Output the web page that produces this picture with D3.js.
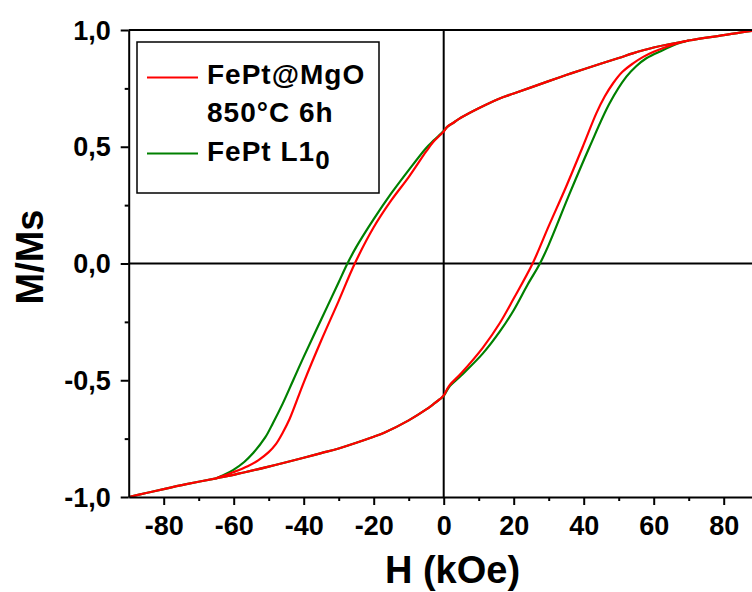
<!DOCTYPE html>
<html>
<head>
<meta charset="utf-8">
<script src="https://cdn.jsdelivr.net/npm/d3@7"></script>
<style>
  html, body { margin: 0; padding: 0; background: #fff; }
  svg { display: block; }
  text { font-family: "Liberation Sans", Arial, sans-serif; font-weight: bold; fill: #000; }
</style>
</head>
<body>
<svg id="chart" width="752" height="592"></svg>
<script>
// ---------- data (H in kOe, M/Ms) ----------
const xTicks = [-80, -60, -40, -20, 0, 20, 40, 60, 80];
const xMinorTicks = [-70, -50, -30, -10, 10, 30, 50, 70];
const yTicks = [-1.0, -0.5, 0.0, 0.5, 1.0];
const yMinorTicks = [-0.75, -0.25, 0.25, 0.75];

const seriesNames = ["FePt@MgO", "850°C 6h", "FePt L1", "0"];

// descending branch, H > 0 (common to both samples)
const upperPos = [[90,1.0],[85,0.99],[80,0.978],[70,0.955],[60,0.925],[54,0.9],[50,0.88],[40,0.832],
  [35,0.807],[30,0.781],[20,0.728],[16,0.707],[10,0.665],[5,0.625],[3,0.605],[1,0.585]];
// ascending branch, H < 0 (common to both samples)
const lowerNeg = [[-90,-1.0],[-85,-0.983],[-80,-0.966],[-73.5,-0.945],[-65,-0.92],[-60,-0.905],
  [-50,-0.87],[-40,-0.832],[-35,-0.812],[-30,-0.792],[-20,-0.742],[-17,-0.725],[-10,-0.672],
  [-5,-0.625],[-3,-0.603],[-1,-0.58]];

// FePt@MgO 850°C 6h (red)
const redUpperNeg = [[0,0.565],[-1,0.55],[-3,0.52],[-5,0.48],[-10,0.37],[-15,0.27],[-20,0.155],
  [-25.4,0],[-30,-0.16],[-35,-0.33],[-40,-0.51],[-44,-0.665],[-46,-0.725],[-48,-0.775],
  [-50,-0.808],[-53,-0.843],[-56,-0.868],[-60,-0.893],[-65,-0.92]];
const redLowerPos = [[0,-0.565],[1.5,-0.525],[5,-0.47],[11.2,-0.36],[16,-0.256],[20,-0.15],
  [25.4,0],[30,0.16],[35,0.33],[40,0.51],[43.6,0.643],[46,0.715],[48.4,0.772],[51,0.82],
  [54.1,0.857],[57,0.885],[60,0.907],[65,0.935],[70,0.955]];

// FePt L1_0 (green)
const greenUpperNeg = [[0,0.567],[-1,0.553],[-3,0.525],[-5,0.495],[-10,0.40],[-15,0.30],[-20,0.19],
  [-25,0.07],[-27.5,0],[-30,-0.08],[-35,-0.24],[-40,-0.40],[-43,-0.50],[-46,-0.60],
  [-48.8,-0.684],[-51,-0.745],[-54.5,-0.813],[-57,-0.85],[-60.2,-0.885],[-63,-0.907],[-65,-0.92]];
const greenLowerPos = [[0,-0.567],[1.5,-0.53],[5,-0.48],[11.2,-0.385],[16,-0.292],[20,-0.20],
  [24,-0.09],[27.5,0],[30,0.08],[36,0.30],[41.7,0.50],[47.4,0.686],[52.2,0.80],[55,0.845],
  [57.9,0.879],[62.7,0.914],[66,0.937],[70,0.955]];

const redColor = "#ff0000";
const greenColor = "#008000";

// ---------- drawing ----------
const svg = d3.select("#chart");
const pLeft = 128.7, pRight = 758.7, pTop = 30, pBottom = 497;

const x = d3.scaleLinear().domain([-90, 90]).range([pLeft, pRight]);
const y = d3.scaleLinear().domain([-1, 1]).range([pBottom, pTop]);

const fmtY = d => (d < 0 ? "-" : "") + Math.abs(d).toFixed(1).replace(".", ",");
const fmtX = d => (d < 0 ? "-" : "") + Math.abs(d);

// clip
svg.append("clipPath").attr("id", "clip")
  .append("rect").attr("x", pLeft).attr("y", pTop).attr("width", pRight - pLeft).attr("height", pBottom - pTop);

// zero lines
svg.append("line").attr("x1", pLeft).attr("x2", pRight).attr("y1", y(0)).attr("y2", y(0))
  .attr("stroke", "#000").attr("stroke-width", 2);
svg.append("line").attr("x1", x(0)).attr("x2", x(0)).attr("y1", pTop).attr("y2", pBottom)
  .attr("stroke", "#000").attr("stroke-width", 2);

// curves
const line = d3.line().x(d => x(d[0])).y(d => y(d[1])).curve(d3.curveCatmullRom.alpha(0.5));
const plot = svg.append("g").attr("clip-path", "url(#clip)");
const curves = [
  { color: greenColor, upper: upperPos.concat(greenUpperNeg), lower: lowerNeg.concat(greenLowerPos) },
  { color: redColor, upper: upperPos.concat(redUpperNeg), lower: lowerNeg.concat(redLowerPos) }
];
curves.forEach(c => {
  [c.upper, c.lower].forEach(br => {
    plot.append("path").datum(br).attr("d", line)
      .attr("fill", "none").attr("stroke", c.color).attr("stroke-width", 2.2)
      .attr("stroke-linejoin", "round");
  });
});

// frame top
svg.append("line").attr("x1", pLeft).attr("x2", pRight).attr("y1", pTop).attr("y2", pTop)
  .attr("stroke", "#000").attr("stroke-width", 2);

// axes
const styleAxis = g => {
  g.select(".domain").attr("stroke", "#000").attr("stroke-width", 2);
  g.selectAll(".tick line").attr("stroke", "#000").attr("stroke-width", 2);
};
const xAxisG = svg.append("g").attr("transform", `translate(0,${pBottom})`)
  .call(d3.axisBottom(x).tickValues(xTicks).tickFormat(fmtX).tickSize(8).tickSizeOuter(0).tickPadding(10));
styleAxis(xAxisG);
xAxisG.selectAll(".tick text").attr("font-size", 27).attr("font-family", "Liberation Sans, Arial, sans-serif")
  .attr("font-weight", "bold").attr("dy", null).attr("y", 38);
svg.append("g").attr("transform", `translate(0,${pBottom})`)
  .call(d3.axisBottom(x).tickValues(xMinorTicks).tickFormat("").tickSize(4).tickSizeOuter(0))
  .call(g => { g.select(".domain").remove(); g.selectAll(".tick line").attr("stroke", "#000").attr("stroke-width", 2); });

const yAxisG = svg.append("g").attr("transform", `translate(${pLeft},0)`)
  .call(d3.axisLeft(y).tickValues(yTicks).tickFormat(fmtY).tickSize(8).tickSizeOuter(0).tickPadding(10));
styleAxis(yAxisG);
yAxisG.selectAll(".tick text").attr("font-size", 27).attr("font-family", "Liberation Sans, Arial, sans-serif")
  .attr("font-weight", "bold").attr("x", -18).attr("dy", "0.34em");
svg.append("g").attr("transform", `translate(${pLeft},0)`)
  .call(d3.axisLeft(y).tickValues(yMinorTicks).tickFormat("").tickSize(4).tickSizeOuter(0))
  .call(g => { g.select(".domain").remove(); g.selectAll(".tick line").attr("stroke", "#000").attr("stroke-width", 2); });

// axis titles
svg.append("text").attr("x", 452.5).attr("y", 583).attr("text-anchor", "middle")
  .attr("font-size", 38).text("H (kOe)");
svg.append("text").attr("transform", "translate(43,257) rotate(-90)").attr("text-anchor", "middle")
  .attr("font-size", 38).text("M/Ms");

// legend
const lg = svg.append("g");
lg.append("rect").attr("x", 137).attr("y", 42).attr("width", 242).attr("height", 151)
  .attr("fill", "#fff").attr("stroke", "#000").attr("stroke-width", 1.5);
lg.append("line").attr("x1", 147).attr("x2", 198).attr("y1", 77.5).attr("y2", 77.5)
  .attr("stroke", redColor).attr("stroke-width", 2);
lg.append("line").attr("x1", 147).attr("x2", 198).attr("y1", 153.5).attr("y2", 153.5)
  .attr("stroke", greenColor).attr("stroke-width", 2);
lg.append("text").attr("x", 207).attr("y", 84).attr("font-size", 28).attr("letter-spacing", 1).text(seriesNames[0]);
lg.append("text").attr("x", 207).attr("y", 122).attr("font-size", 28).attr("letter-spacing", 1).text(seriesNames[1]);
const t3 = lg.append("text").attr("x", 207).attr("y", 161).attr("font-size", 28).attr("letter-spacing", 1);
t3.append("tspan").text(seriesNames[2]);
t3.append("tspan").attr("dy", 8).attr("font-size", 26).text(seriesNames[3]);
</script>
</body>
</html>
